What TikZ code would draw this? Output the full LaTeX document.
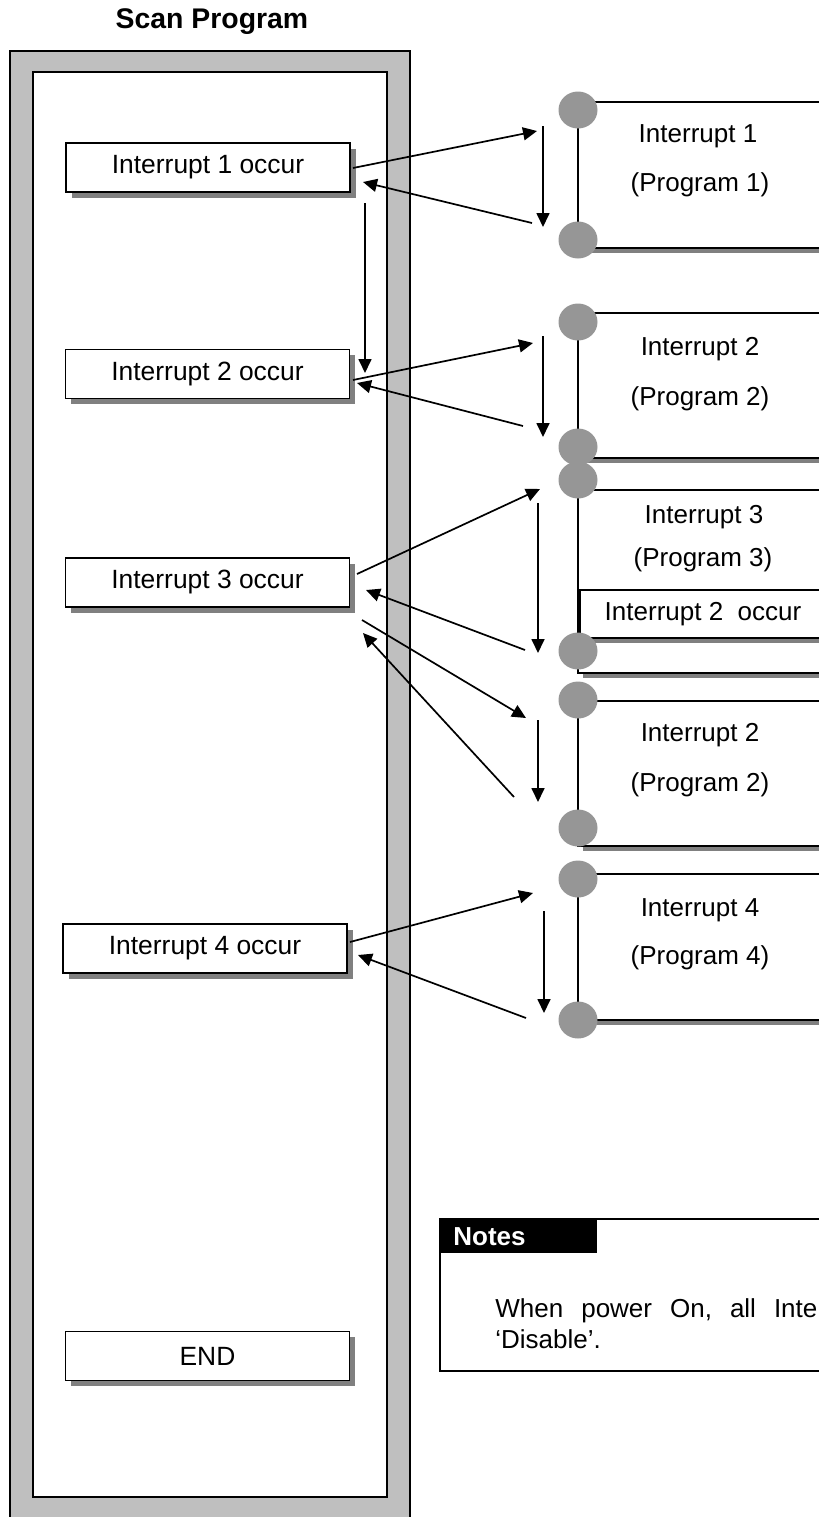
\documentclass[tikz,border=0pt]{standalone}
\usepackage{fontspec}
\setmainfont{Liberation Sans}
\usetikzlibrary{shapes.geometric,shadows,arrows.meta}
\definecolor{framegray}{gray}{0.75}
\definecolor{shadowgray}{gray}{0.5}
\definecolor{dotgray}{gray}{0.59}
\begin{document}
\begin{tikzpicture}[x=0.5pt,y=-0.5pt,
  txt/.style={font=\fontsize{13}{15}\selectfont, inner sep=0pt},
  scanbox/.style={draw, fill=white, line width=0.95pt, minimum width=142pt, minimum height=24.5pt, inner sep=0pt, font=\fontsize{13.2}{15}\selectfont, drop shadow={shadow xshift=2.75pt, shadow yshift=-2.75pt, fill=shadowgray, opacity=1}},
  dot/.style={ellipse, fill=dotgray, minimum width=19.5pt, minimum height=18.5pt, inner sep=0pt},
  arr/.style={line width=0.85pt, -{Triangle[length=7pt,width=6.5pt]}},
  pline/.style={line width=0.85pt},
  pshadow/.style={fill=shadowgray},
]
\useasboundingbox (0,0) rectangle (819,1517);
\clip (0,0) rectangle (819,1517);

% title
\node[font=\bfseries\fontsize{14.2}{16}\selectfont, inner sep=0pt] (title) at (212,21.5) {Scan Program};

% scan program frame
\fill[framegray] (10,51) rectangle (410,1530);
\draw[line width=1pt] (10,1530) -- (10,51) -- (410,51) -- (410,1530);
\draw[line width=1pt, fill=white] (33,72) rectangle (387,1497);

% scan boxes
\node[scanbox] (s1) at (208,167.5) {Interrupt 1 occur};
\node[scanbox] (s2) at (207.5,374) {Interrupt 2 occur};
\node[scanbox] (s3) at (207.5,582.5) {Interrupt 3 occur};
\node[scanbox] (s4) at (205,948.5) {Interrupt 4 occur};
\node[scanbox] (send) at (207.5,1356) {END};

% interrupt program boxes
\fill[pshadow] (583,107) rectangle (830,253);
\draw[pline, fill=white] (578,102) rectangle (830,248);
\fill[pshadow] (583,318) rectangle (830,463);
\draw[pline, fill=white] (578,313) rectangle (830,458);
\fill[pshadow] (583,495) rectangle (830,678);
\draw[pline, fill=white] (578,490) rectangle (830,673);
\fill[pshadow] (585,595) rectangle (835,643);
\draw[pline, fill=white] (580,590) rectangle (835,638);
\fill[pshadow] (583,706) rectangle (830,851);
\draw[pline, fill=white] (578,701) rectangle (830,846);
\fill[pshadow] (583,879) rectangle (830,1025);
\draw[pline, fill=white] (578,874) rectangle (830,1020);

% dots
\node[dot] (d1a) at (578,110) {};
\node[dot] (d1b) at (578,240) {};
\node[dot] (d2a) at (578,322) {};
\node[dot] (d2b) at (578,447) {};
\node[dot] (d3a) at (578,480) {};
\node[dot] (d3b) at (578,651) {};
\node[dot] (d5a) at (578,700) {};
\node[dot] (d5b) at (578,828) {};
\node[dot] (d4a) at (578,879) {};
\node[dot] (d4b) at (578,1020) {};

% program texts
\node[txt] (p1a) at (698,136) {Interrupt 1};
\node[txt] (p1b) at (700,185) {(Program 1)};
\node[txt] (p2a) at (700,349) {Interrupt 2};
\node[txt] (p2b) at (700,399) {(Program 2)};
\node[txt] (p3a) at (704,517) {Interrupt 3};
\node[txt] (p3b) at (703,560) {(Program 3)};
\node[txt] (p3c) at (703,614) {Interrupt 2\ \ occur};
\node[txt] (p5a) at (700,735) {Interrupt 2};
\node[txt] (p5b) at (700,785) {(Program 2)};
\node[txt] (p4a) at (700,910) {Interrupt 4};
\node[txt] (p4b) at (700,958) {(Program 4)};

% arrow end points
\coordinate (a1o1) at (353,168);  \coordinate (a1o2) at (537,131);
\coordinate (a1r1) at (532,223);  \coordinate (a1r2) at (363,182);
\coordinate (a1d1) at (543,126);  \coordinate (a1d2) at (543,227);
\coordinate (s12a) at (365,203);  \coordinate (s12b) at (365,373);
\coordinate (a2o1) at (353,380);  \coordinate (a2o2) at (533,343);
\coordinate (a2r1) at (523,426);  \coordinate (a2r2) at (357,383);
\coordinate (a2d1) at (543,336);  \coordinate (a2d2) at (543,437);
\coordinate (a3o1) at (357,574);  \coordinate (a3o2) at (540,489);
\coordinate (a3r1) at (525,650);  \coordinate (a3r2) at (366,590);
\coordinate (a3d1) at (538,503);  \coordinate (a3d2) at (538,653);
\coordinate (a5o1) at (362,620);  \coordinate (a5o2) at (526,718);
\coordinate (a5r1) at (514,797);  \coordinate (a5r2) at (363,633);
\coordinate (a5d1) at (538,720);  \coordinate (a5d2) at (538,802);
\coordinate (a4o1) at (350,942);  \coordinate (a4o2) at (533,893);
\coordinate (a4r1) at (526,1018); \coordinate (a4r2) at (358,955);
\coordinate (a4d1) at (544,911);  \coordinate (a4d2) at (544,1013);

\draw[arr] (a1o1) -- (a1o2);
\draw[arr] (a1r1) -- (a1r2);
\draw[arr] (a1d1) -- (a1d2);
\draw[arr] (s12a) -- (s12b);
\draw[arr] (a2o1) -- (a2o2);
\draw[arr] (a2r1) -- (a2r2);
\draw[arr] (a2d1) -- (a2d2);
\draw[arr] (a3o1) -- (a3o2);
\draw[arr] (a3r1) -- (a3r2);
\draw[arr] (a3d1) -- (a3d2);
\draw[arr] (a5o1) -- (a5o2);
\draw[arr] (a5r1) -- (a5r2);
\draw[arr] (a5d1) -- (a5d2);
\draw[arr] (a4o1) -- (a4o2);
\draw[arr] (a4r1) -- (a4r2);
\draw[arr] (a4d1) -- (a4d2);

% notes
\draw[line width=0.8pt] (830,1219) -- (440,1219) -- (440,1371) -- (830,1371);
\node[fill=black, minimum width=78.5pt, minimum height=17pt, anchor=north west, inner sep=0pt] (nhead) at (440,1219) {};
\node[txt, font=\bfseries\fontsize{13}{15}\selectfont, text=white, anchor=base west] (notes) at (453,1245) {Notes};
\node[txt, anchor=base west] (n1) at (495,1317) {When\hspace{9pt}power\hspace{9pt}On,\hspace{9pt}all\hspace{9pt}Inte};
\node[txt, anchor=base west] (n2) at (495,1348) {‘Disable’.};
\end{tikzpicture}
\end{document}
